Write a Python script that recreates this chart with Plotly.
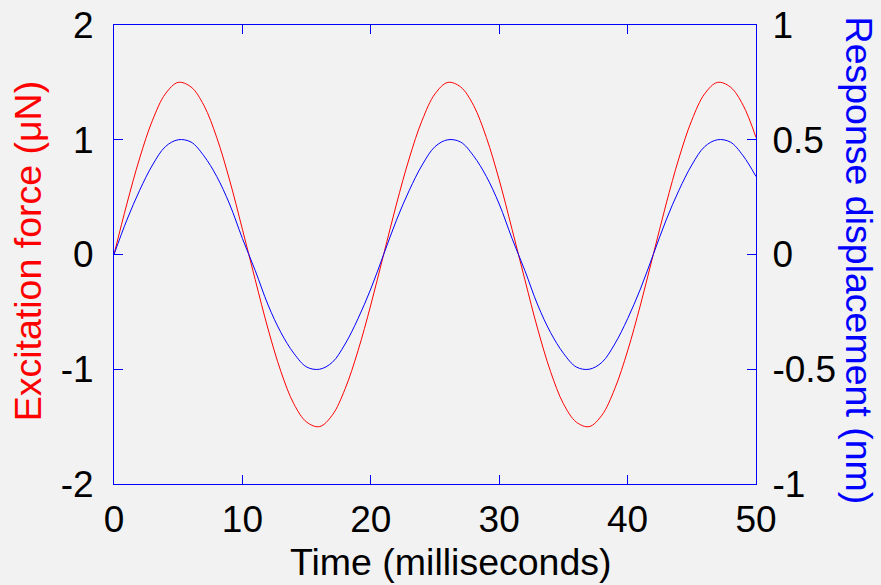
import plotly.graph_objects as go

# Time samples (milliseconds)
time_ms = list(range(0, 51))

# Excitation force (uN)
force_uN = [0.00, 0.44, 0.84, 1.17, 1.40, 1.50, 1.46, 1.30, 1.02, 0.65, 0.22,
            -0.22, -0.65, -1.02, -1.30, -1.46, -1.50, -1.40, -1.17, -0.84, -0.44,
            0.00, 0.44, 0.84, 1.17, 1.40, 1.50, 1.46, 1.30, 1.02, 0.65, 0.22,
            -0.22, -0.65, -1.02, -1.30, -1.46, -1.50, -1.40, -1.17, -0.84, -0.44,
            0.00, 0.44, 0.84, 1.17, 1.40, 1.50, 1.46, 1.30, 1.02]

# Response displacement (nm)
disp_nm = [0.00, 0.15, 0.28, 0.39, 0.47, 0.50, 0.49, 0.43, 0.34, 0.22, 0.07,
           -0.07, -0.22, -0.34, -0.43, -0.49, -0.50, -0.47, -0.39, -0.28, -0.15,
           0.00, 0.15, 0.28, 0.39, 0.47, 0.50, 0.49, 0.43, 0.34, 0.22, 0.07,
           -0.07, -0.22, -0.34, -0.43, -0.49, -0.50, -0.47, -0.39, -0.28, -0.15,
           0.00, 0.15, 0.28, 0.39, 0.47, 0.50, 0.49, 0.43, 0.34]

x_ticks = [0, 10, 20, 30, 40, 50]
x_labels = ["0", "10", "20", "30", "40", "50"]
y_left_ticks = [-2, -1, 0, 1, 2]
y_left_labels = ["-2", "-1", "0", "1", "2"]
y_right_ticks = [-1, -0.5, 0, 0.5, 1]
y_right_labels = ["-1", "-0.5", "0", "0.5", "1"]

FONT = "Liberation Sans, Arial, sans-serif"
FS = 37
FT = 37.5
AXC = "#0000ff"
BG = "#f2f2f2"

fig = go.Figure()
fig.add_trace(go.Scatter(x=time_ms, y=force_uN, mode="lines", line=dict(color="#ff0000", width=1, shape="spline"),
                         yaxis="y", showlegend=False))
fig.add_trace(go.Scatter(x=time_ms, y=disp_nm, mode="lines", line=dict(color="#0000ff", width=1, shape="spline"),
                         yaxis="y2", showlegend=False))

fig.update_layout(
    width=881, height=585,
    margin=dict(l=114, r=125, t=25, b=101, autoexpand=False),
    paper_bgcolor=BG, plot_bgcolor=BG,
    font=dict(family=FONT, size=FS, color="black"),
    xaxis=dict(range=[0, 50], tickvals=x_ticks, ticktext=x_labels, ticks="inside", ticklen=9, tickwidth=1,
               tickcolor=AXC, showline=True, linecolor=AXC, linewidth=1, mirror="ticks", showgrid=False,
               zeroline=False, ticklabelstandoff=3, automargin=False),
    yaxis=dict(range=[-2, 2], tickvals=y_left_ticks, ticktext=y_left_labels, ticks="inside", ticklen=9,
               tickwidth=1, tickcolor=AXC, showline=True, linecolor=AXC, linewidth=1, showgrid=False,
               zeroline=False, ticklabelstandoff=12, automargin=False),
    yaxis2=dict(range=[-1, 1], tickvals=y_right_ticks, ticktext=y_right_labels, overlaying="y", side="right",
                ticks="inside", ticklen=9, tickwidth=1, tickcolor=AXC,
                showline=True, linecolor=AXC, linewidth=1, showgrid=False, zeroline=False,
                ticklabelstandoff=8, automargin=False),
    annotations=[
        dict(text="Time (milliseconds)", xref="paper", yref="paper", x=0.525, y=-0.171, xanchor="center",
             yanchor="middle", showarrow=False, font=dict(family=FONT, size=FT, color="black")),
        dict(text="Excitation force (μN)", xref="paper", yref="paper", x=-0.134, y=0.507, xanchor="center",
             yanchor="middle", textangle=-90, showarrow=False, font=dict(family=FONT, size=FT, color="#ff0000")),
        dict(text="Response displacement (nm)", xref="paper", yref="paper", x=1.161, y=0.486, xanchor="center",
             yanchor="middle", textangle=90, showarrow=False, font=dict(family=FONT, size=FT, color="#0000ff")),
    ],
)

fig.write_html("out.html")
